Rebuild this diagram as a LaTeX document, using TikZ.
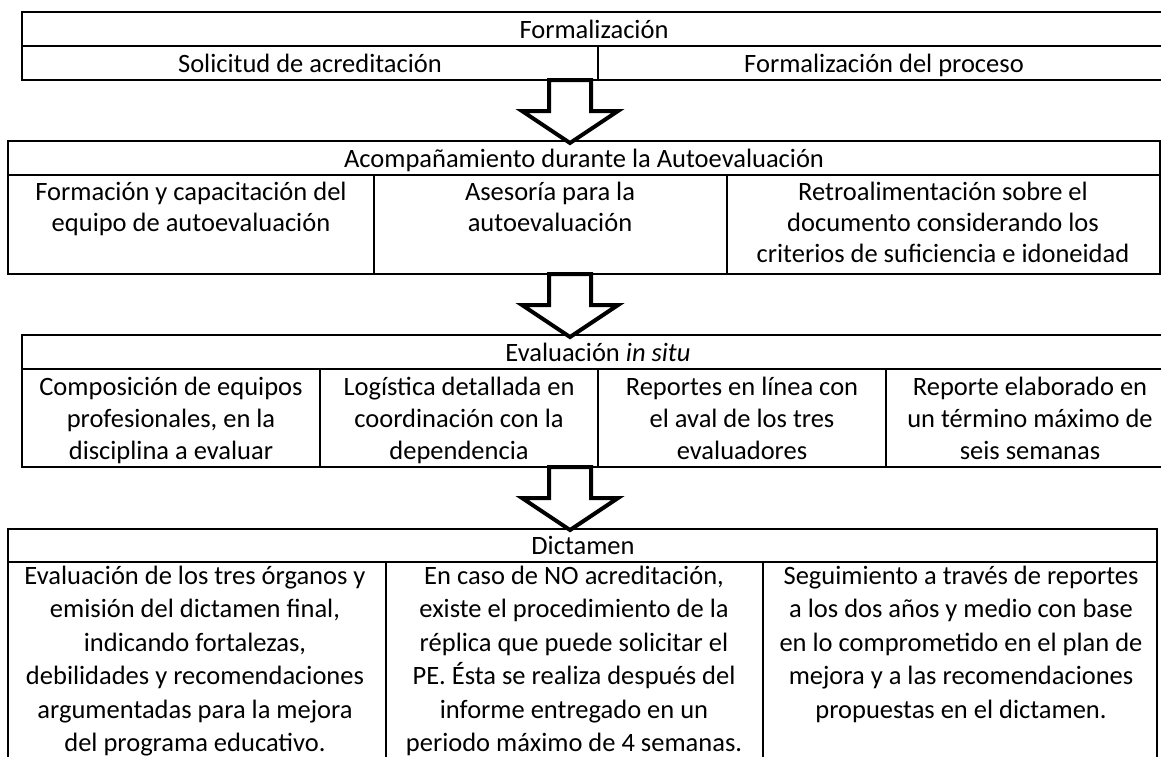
\documentclass[tikz,border=0pt]{standalone}
\usepackage{fontspec}
\setmainfont{Carlito}
\begin{document}
\begin{tikzpicture}[x=1pt,y=-1pt,
  cellb/.style={draw=black, line width=2pt},
  txt/.style={anchor=base, align=center, inner sep=0pt, font=\fontsize{26.5}{31}\selectfont},
  txtc/.style={txt, font=\fontsize{26.5}{32}\selectfont},
  txtd/.style={txt, font=\fontsize{26.5}{33.5}\selectfont},
  barrow/.style={draw=black, fill=white, line width=4pt, line join=miter, miter limit=10}]
\useasboundingbox (0,0) rectangle (1161,756);

% ---- Table 1: Formalizacion
\draw[cellb] (22,12) rectangle (1172,46);
\draw[cellb] (22,46) rectangle (598,80);
\draw[cellb] (598,46) rectangle (1172,80);
\node[txt] (h1) at (594,38) {Formalización};
\node[txt] (c11) at (310,72) {Solicitud de acreditación};
\node[txt] (c12) at (884,72) {Formalización del proceso};

% ---- Table 2: Acompanamiento
\draw[cellb] (8,141) rectangle (1160,175);
\draw[cellb] (8,175) rectangle (374,274);
\draw[cellb] (374,175) rectangle (727,274);
\draw[cellb] (727,175) rectangle (1160,274);
\node[txt] (h2) at (584,167) {Acompañamiento durante la Autoevaluación};
\node[txt] (c21) at (191,231) {Formación y capacitación del\\equipo de autoevaluación};
\node[txt] (c22) at (550,231) {Asesoría para la\\autoevaluación};
\node[txt] (c23) at (943,262) {Retroalimentación sobre el\\documento considerando los\\criterios de suficiencia e idoneidad};

% ---- Table 3: Evaluacion in situ
\draw[cellb] (22,335) rectangle (1176,369);
\draw[cellb] (22,369) rectangle (320,467);
\draw[cellb] (320,369) rectangle (598,467);
\draw[cellb] (598,369) rectangle (886,467);
\draw[cellb] (886,369) rectangle (1176,467);
\node[txtc] (h3) at (598,361) {Evaluación \textit{in situ}};
\node[txtc] (c31) at (171,459) {Composición de equipos\\profesionales, en la\\disciplina a evaluar};
\node[txtc] (c32) at (459,459) {Logística detallada en\\coordinación con la\\dependencia};
\node[txtc] (c33) at (742,459) {Reportes en línea con\\el aval de los tres\\evaluadores};
\node[txtc] (c34) at (1030,459) {Reporte elaborado en\\un término máximo de\\seis semanas};

% ---- Table 4: Dictamen
\draw[cellb] (8,529) rectangle (1157,562);
\draw[cellb] (8,562) rectangle (386,770);
\draw[cellb] (386,562) rectangle (763,770);
\draw[cellb] (763,562) rectangle (1157,770);
\node[txtd] (h4) at (583,554) {Dictamen};
\node[txtd] (c41) at (195,751.5) {Evaluación de los tres órganos y\\emisión del dictamen final,\\indicando fortalezas,\\debilidades y recomendaciones\\argumentadas para la mejora\\del programa educativo.};
\node[txtd] (c42) at (574,751.5) {En caso de NO acreditación,\\existe el procedimiento de la\\réplica que puede solicitar el\\PE. Ésta se realiza después del\\informe entregado en un\\periodo máximo de 4 semanas.};
\node[txtd] (c43) at (961,718) {Seguimiento a través de reportes\\a los dos años y medio con base\\en lo comprometido en el plan de\\mejora y a las recomendaciones\\propuestas en el dictamen.};

% ---- Block arrows
\coordinate (a1) at (570,80);
\coordinate (a2) at (570,274);
\coordinate (a3) at (570,467);
\foreach \a in {a1,a2,a3}{
  \begin{scope}[shift={(\a)}]
    \draw[barrow] (-21,0) -- (21,0) -- (21,31) -- (48,31) -- (0,63) -- (-48,31) -- (-21,31) -- cycle;
  \end{scope}
}
\end{tikzpicture}
\end{document}
